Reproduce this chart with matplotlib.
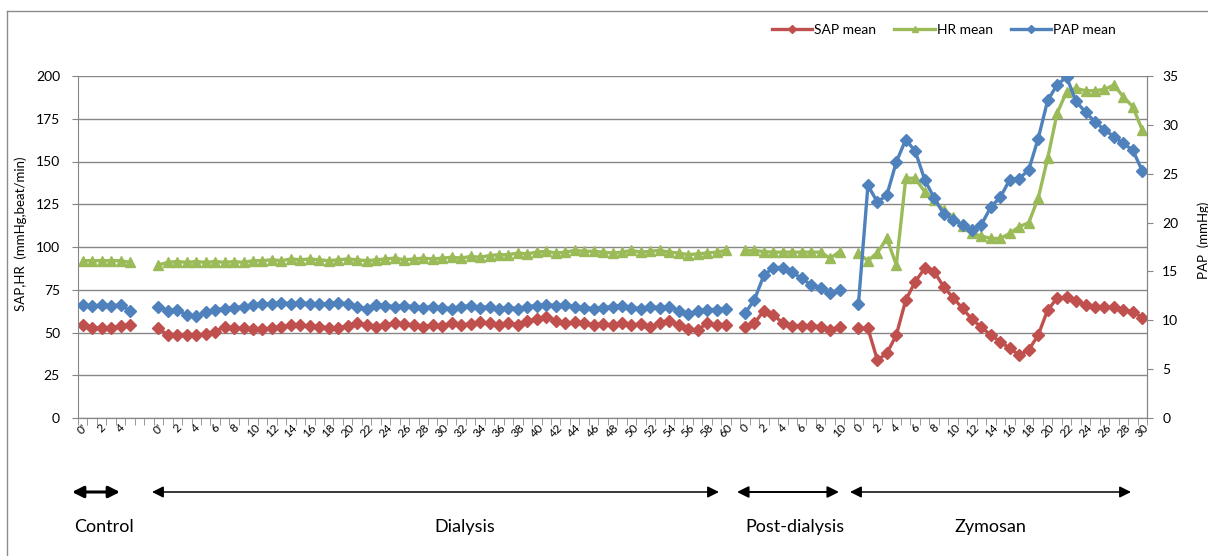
import numpy as np
import matplotlib

matplotlib.use("Agg")
import matplotlib.pyplot as plt
from matplotlib.lines import Line2D

plt.rcParams["font.family"] = ["Lato", "DejaVu Sans"]

# ---- data ----
# SAP / HR on the left axis, PAP (mmHg) on the right axis
control_sap = [54.4, 52.4, 52.8, 52.8, 53.8, 54.4]
control_hr = [92, 92, 92, 92, 92, 91]
control_pap = [11.55, 11.45, 11.55, 11.45, 11.6, 10.95]

dialysis_sap = [52.4, 48.5, 48.5, 48.5, 48.5, 49.1, 50.5, 53.4, 52.4, 52.4,
                51.9, 51.9, 52.4, 53.4, 54.4, 54.4, 53.8, 53.4, 52.8, 52.8,
                53.8, 55.4, 54.4, 53.4, 54.4, 55.4, 55.0, 54.4, 53.4, 54.4,
                54.0, 55.4, 54.4, 55.0, 56.0, 55.4, 54.4, 55.4, 54.4, 56.5,
                58.0, 59.0, 57.0, 55.4, 56.0, 55.4, 54.4, 55.0, 54.4, 55.4,
                54.4, 55.0, 53.4, 55.4, 56.5, 54.4, 52.0, 51.5, 55.4, 54.4,
                54.4]
dialysis_hr = [89.5, 91, 91.5, 91, 91.5, 91, 91.5, 91, 91.5, 91,
               92, 92, 92.5, 92, 93, 92.5, 93, 92.5, 92, 92.5,
               93, 92.5, 92, 92.5, 93, 93.5, 92.5, 93, 93.5, 93,
               93.5, 94, 93.5, 94.5, 94, 95, 95.5, 95.5, 96.5, 96,
               97, 97.5, 96.5, 97, 98, 97.5, 97.5, 97, 96.5, 97,
               98, 97, 97.5, 98, 97, 96.5, 95.5, 96, 96.5, 97,
               98]
dialysis_pap = [11.4, 11.0, 11.1, 10.5, 10.4, 10.8, 11.1, 11.2, 11.3, 11.4,
                11.6, 11.7, 11.7, 11.8, 11.7, 11.8, 11.7, 11.7, 11.7, 11.8,
                11.7, 11.4, 11.2, 11.6, 11.5, 11.4, 11.5, 11.4, 11.3, 11.4,
                11.3, 11.2, 11.4, 11.5, 11.3, 11.4, 11.2, 11.3, 11.2, 11.4,
                11.5, 11.6, 11.5, 11.6, 11.4, 11.3, 11.2, 11.3, 11.4, 11.5,
                11.3, 11.2, 11.4, 11.3, 11.4, 11.0, 10.6, 11.0, 11.1, 11.1,
                11.2]

post_sap = [53.4, 55.4, 62.8, 60.2, 55.7, 54.0, 54.0, 54.0, 53.4, 51.5, 53.4]
post_hr = [98, 98, 97.3, 97, 97, 97, 97, 97, 97, 93.4, 97.3]
post_pap = [10.7, 12.1, 14.6, 15.4, 15.4, 14.9, 14.3, 13.6, 13.3, 12.8, 13.1]

zymosan_sap = [52.4, 52.4, 33.9, 37.8, 48.5, 69.0, 79.7, 87.5, 85.6, 76.8,
               70.3, 64.1, 57.7, 53.0, 48.5, 44.6, 40.7, 36.8, 39.8, 48.5,
               63.2, 70.0, 70.6, 68.6, 66.1, 64.7, 64.7, 64.7, 63.2, 62.2,
               58.7]
zymosan_hr = [96.3, 92, 96.7, 105, 89.5, 140.2, 140.2, 132.3, 127.5, 121.6,
              117.7, 112, 108, 106.4, 105, 105, 108, 111.9, 114.2, 128.5,
              151.9, 178.2, 190.8, 192.8, 191.4, 191.4, 192.2, 194.7, 187.9, 182,
              168.4]
zymosan_pap = [11.7, 23.8, 22.1, 22.8, 26.2, 28.5, 27.3, 24.4, 22.5, 20.9,
               20.3, 19.8, 19.2, 19.8, 21.6, 22.6, 24.4, 24.5, 25.4, 28.6,
               32.5, 34.1, 34.9, 32.4, 31.3, 30.3, 29.5, 28.8, 28.1, 27.4,
               25.3]

control_labels = ["0'", "1", "2", "3", "4", "5"]
dialysis_labels = ["0'"] + [str(m) for m in range(1, 61)]
post_labels = [str(m) for m in range(0, 11)]
zymosan_labels = [str(m) for m in range(0, 31)]

# gaps between phases: 2 empty categories after control, 1 after the others
gap2 = [np.nan, np.nan]
gap1 = [np.nan]


def join(c, d, p, z):
    return np.array(c + gap2 + d + gap1 + p + gap1 + z, dtype=float)


sap = join(control_sap, dialysis_sap, post_sap, zymosan_sap)
hr = join(control_hr, dialysis_hr, post_hr, zymosan_hr)
pap = join(control_pap, dialysis_pap, post_pap, zymosan_pap)
labels = control_labels + ["", ""] + dialysis_labels + [""] + post_labels + [""] + zymosan_labels
x = np.arange(len(labels))

RED = "#C0504D"
GREEN = "#9BBB59"
BLUE = "#4F81BD"
GRID = "#868686"

W, H = 1208, 556
fig = plt.figure(figsize=(W / 100, H / 100), dpi=100)
ax = fig.add_axes([78 / W, 1 - 418 / H, (1147 - 78) / W, (418 - 76) / H])
ax2 = ax.twinx()

ax.plot(x, sap, color=RED, lw=2.4, marker="D", ms=6, label="SAP mean")
ax.plot(x, hr, color=GREEN, lw=2.4, marker="^", ms=7, label="HR mean")
ax2.plot(x, pap, color=BLUE, lw=2.4, marker="D", ms=6, label="PAP mean")

ax.set_xlim(-0.5, len(labels) - 0.5)
ax.set_ylim(0, 200)
ax2.set_ylim(0, 35)
ax.set_yticks(np.arange(0, 201, 25))
ax2.set_yticks(np.arange(0, 36, 5))
ax.yaxis.grid(True, color=GRID, lw=1)
ax.set_axisbelow(True)

# category ticks: marks on boundaries, labels on every other category
ax.set_xticks(x[::2])
ax.set_xticklabels(labels[::2], rotation=45, ha="center", va="top", fontsize=8.5)
ax.set_xticks(np.arange(-0.5, len(labels)), minor=True)
ax.tick_params(axis="x", which="major", length=0, pad=3)
ax.tick_params(axis="x", which="minor", length=5, color=GRID, direction="out")
ax.tick_params(axis="y", length=4, color=GRID, labelsize=10, pad=9)
ax2.tick_params(axis="y", length=4, color=GRID, labelsize=10, pad=7)

for a in (ax, ax2):
    a.spines["top"].set_visible(False)
    for s in ("left", "right", "bottom"):
        a.spines[s].set_color(GRID)
ax2.spines["left"].set_visible(False)

fig.text(21 / W, 1 - 234 / H, "SAP,HR  (mmHg,beat/min)", rotation=90,
         ha="center", va="center", fontsize=9.5)
fig.text(1204 / W, 1 - 240 / H, "PAP  (mmHg)", rotation=90,
         ha="center", va="center", fontsize=9.5)

handles = [Line2D([], [], color=RED, lw=2.4, marker="D", ms=4),
           Line2D([], [], color=GREEN, lw=2.4, marker="^", ms=5),
           Line2D([], [], color=BLUE, lw=2.4, marker="D", ms=4)]
fig.legend(handles, ["SAP mean", "HR mean", "PAP mean"], ncol=3,
           loc="center", bbox_to_anchor=(944 / W, 1 - 30 / H),
           frameon=False, fontsize=10, handlelength=2.9,
           handletextpad=0.15, columnspacing=1.3)

# phase arrows and names under the axis (figure pixels)
arrow_y = H - 492
phases = [("Control", 72, 120, 104, 2.2), ("Dialysis", 152, 719, 465, 1.1),
          ("Post-dialysis", 737, 839, 795, 1.4), ("Zymosan", 850, 1131, 990, 1.1)]
for name, x0, x1, xt, lw in phases:
    ax.annotate("", xy=(x1, arrow_y), xytext=(x0, arrow_y),
                xycoords="figure pixels", textcoords="figure pixels",
                arrowprops=dict(arrowstyle="<|-|>", color="black", lw=lw,
                                mutation_scale=17, shrinkA=0, shrinkB=0))
    fig.text(xt / W, 1 - 527 / H, name, ha="center", va="center", fontsize=13)

# outer chart frame (runs off the right and bottom edges)
fig.add_artist(Line2D([7 / W, 7 / W], [0, 1 - 11 / H], color="#8c8c8c", lw=1))
fig.add_artist(Line2D([7 / W, 1], [1 - 11 / H, 1 - 11 / H], color="#8c8c8c", lw=1))

fig.savefig("out.png", dpi=100)
